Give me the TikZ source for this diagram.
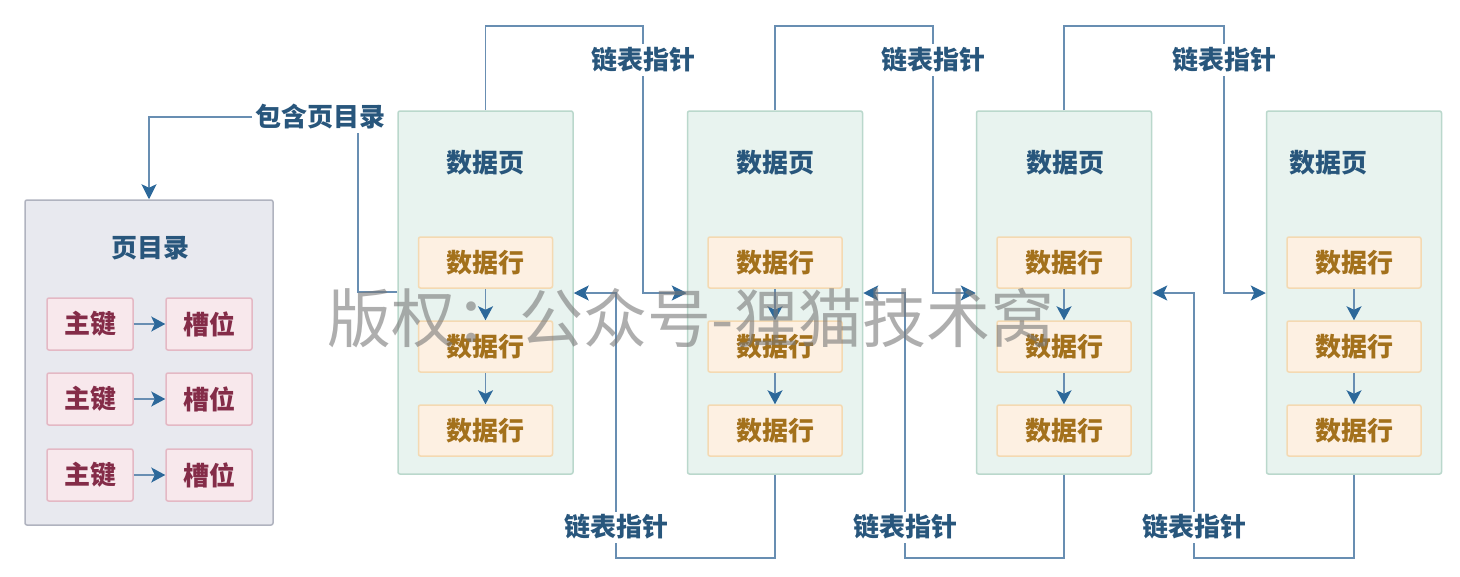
\documentclass[tikz,border=0pt]{standalone}
\usepackage{fontspec}
\setmainfont{Noto Sans CJK SC}
\usetikzlibrary{arrows.meta}

\definecolor{linkline}{RGB}{104,142,178}
\definecolor{linktip}{RGB}{44,104,154}
\definecolor{labelblue}{RGB}{40,86,124}
\definecolor{pagefill}{RGB}{232,243,239}
\definecolor{pagedraw}{RGB}{186,216,204}
\definecolor{rowfill}{RGB}{253,240,226}
\definecolor{rowdraw}{RGB}{244,217,178}
\definecolor{rowtext}{RGB}{163,113,28}
\definecolor{dirfill}{RGB}{232,233,239}
\definecolor{dirdraw}{RGB}{176,179,191}
\definecolor{keyfill}{RGB}{248,232,236}
\definecolor{keydraw}{RGB}{228,184,196}
\definecolor{keytext}{RGB}{132,44,72}
\definecolor{wmark}{RGB}{120,120,120}

\tikzset{
  txt/.style={font=\fontsize{26}{30}\selectfont\bfseries, inner sep=2pt},
  datapage/.style={draw=pagedraw, fill=pagefill, line width=1.5pt, rounded corners=2pt,
    minimum width=175pt, minimum height=363pt, inner sep=0pt},
  pagetitle/.style={txt, text=labelblue},
  datarow/.style={draw=rowdraw, fill=rowfill, line width=1.5pt, rounded corners=2pt,
    minimum width=134pt, minimum height=51pt, inner sep=0pt, txt, text=rowtext},
  dirbox/.style={draw=dirdraw, fill=dirfill, line width=1.5pt, rounded corners=2pt,
    minimum width=248pt, minimum height=325pt, inner sep=0pt},
  keybox/.style={draw=keydraw, fill=keyfill, line width=1.5pt, rounded corners=2pt,
    minimum width=86pt, minimum height=52pt, inner sep=0pt, txt, text=keytext},
  link/.style={draw=linkline, line width=1.6pt,
    -{Stealth[length=15pt,width=15pt,inset=3.5pt,color=linktip]}},
  shortlink/.style={draw=linkline, line width=1.6pt,
    -{Stealth[length=14pt,width=15pt,inset=3.5pt,color=linktip]}},
  linklabel/.style={txt, text=labelblue, fill=white, inner sep=3pt},
}

\begin{document}
\begin{tikzpicture}[x=1pt,y=-1pt]
\useasboundingbox[fill=white] (0,0) rectangle (1460,576);

% page directory
\node[dirbox] (dir) at (149,362.5) {};
\node[pagetitle] (dirtitle) at (150,248) {页目录};
\foreach \i/\y in {1/324,2/399,3/475}{
  \node[keybox] (key\i) at (90,\y) {主键};
  \node[keybox] (slot\i) at (209,\y) {槽位};
  \draw[shortlink] (key\i) -- (slot\i);
}

% data pages with their rows
\foreach \p/\x/\tx in {1/485.5/485,2/775/775,3/1064/1065,4/1354/1328}{
  \node[datapage] (p\p) at (\x,292.5) {};
  \node[pagetitle] (t\p) at (\tx,163) {数据页};
  \node[datarow] (r\p a) at (\x,262.5) {数据行};
  \node[datarow] (r\p b) at (\x,346.5) {数据行};
  \node[datarow] (r\p c) at (\x,430.5) {数据行};
  \draw[shortlink] (r\p a) -- (r\p b);
  \draw[shortlink] (r\p b) -- (r\p c);
}

% level at which the list pointers enter the pages
\coordinate (ylev) at (0,293);

% forward list pointers over the top
\foreach \a/\b/\lx in {1/2/643,2/3/933,3/4/1224}{
  \coordinate (top\a) at (\lx,26);
  \draw[link] (p\a.north) |- (top\a) -- (top\a |- ylev) -- (p\b.west |- ylev);
  \node[linklabel] (fl\a) at (\lx,60) {链表指针};
}

% backward list pointers underneath
\foreach \a/\b/\lx in {1/2/616,2/3/905,3/4/1194}{
  \coordinate (bot\a) at (\lx,558);
  \draw[link] (p\b.south) |- (bot\a) -- (bot\a |- ylev) -- (p\a.east |- ylev);
  \node[linklabel] (bl\a) at (\lx,527) {链表指针};
}

% the first page refers to the page directory
\coordinate (dc1) at (358,292);
\coordinate (dc2) at (358,117);
\draw[link] (p1.west |- dc1) -- (dc1) -- (dc2) -| (dir.north);
\node[linklabel] (dirlabel) at (320,117) {包含页目录};

% watermark
\node[font=\fontsize{64}{74}\selectfont, text=wmark, text opacity=0.6, inner sep=0pt]
  (wm) at (691,318) {版权：公众号-狸猫技术窝};
\end{tikzpicture}
\end{document}
